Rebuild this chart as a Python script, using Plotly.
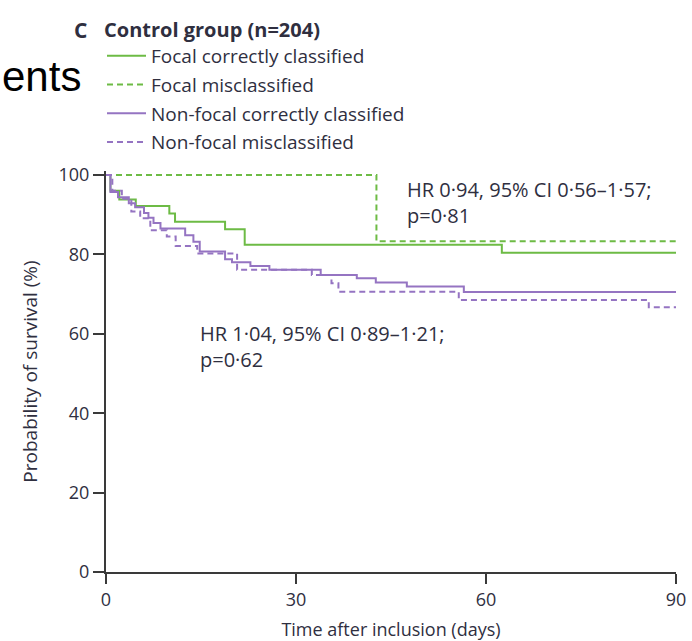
import plotly.graph_objects as go

# ---- data ----
focal_correct_t = [0, 0.7, 2.1, 4.7, 10.0, 10.9, 18.8, 21.9, 62.5, 90]
focal_correct_s = [100, 96.0, 93.8, 92.2, 90.3, 88.2, 86.3, 82.4, 80.4, 80.4]

focal_mis_t = [0, 42.7, 90]
focal_mis_s = [100, 83.3, 83.3]

nonfocal_correct_t = [0, 0.7, 1.9, 3.6, 4.6, 6.0, 6.7, 7.5, 8.6, 12.5, 13.8, 14.8,
                      18.8, 19.9, 22.8, 25.8, 33.9, 39.6, 42.6, 47.5, 56.5, 90]
nonfocal_correct_s = [100, 95.7, 94.4, 92.9, 91.9, 90.4, 89.2, 87.9, 86.5, 84.8, 83.2, 80.7,
                      78.8, 78.0, 77.1, 76.1, 74.8, 74.0, 72.9, 71.9, 70.5, 70.5]

nonfocal_mis_t = [0, 1.0, 2.5, 4.0, 5.4, 7.0, 9.6, 11.0, 14.4, 20.7, 32.5, 35.6, 36.7, 55.7, 85.7, 90]
nonfocal_mis_s = [100, 96.0, 94.0, 90.8, 89.1, 86.1, 84.5, 82.1, 80.2, 76.1, 74.8, 72.7, 70.6, 68.5, 66.7, 66.7]

series_names = ["Focal correctly classified", "Focal misclassified",
                "Non-focal correctly classified", "Non-focal misclassified"]
x_ticks = [0, 30, 60, 90]
y_ticks = [0, 20, 40, 60, 80, 100]

GREEN = "#6dbb45"
PURPLE = "#9574c2"
TXT = "#2f2f3f"
FONT = "Open Sans"

fig = go.Figure()
specs = [
    (focal_correct_t, focal_correct_s, GREEN, "solid"),
    (focal_mis_t, focal_mis_s, GREEN, "6px,4px"),
    (nonfocal_correct_t, nonfocal_correct_s, PURPLE, "solid"),
    (nonfocal_mis_t, nonfocal_mis_s, PURPLE, "6px,4px"),
]
for i, (t, s, c, d) in enumerate(specs):
    fig.add_trace(go.Scatter(
        x=t, y=s, mode="lines", name=series_names[i], legendgroup=f"g{i}",
        line=dict(color=c, width=2, dash=d, shape="hv"),
        hoverinfo="skip"))

W, H = 692, 641
L, R, T, B = 106, 16, 171, 69

def px_x(p):
    return (p - L) / (W - L - R)

def px_y(p):
    return (572 - p) / (572 - T)

fig.update_layout(
    width=W, height=H,
    margin=dict(l=L, r=R, t=T, b=B, autoexpand=False),
    paper_bgcolor="white", plot_bgcolor="white",
    font=dict(family=FONT, size=18, color=TXT),
    showlegend=True,
    legend=dict(
        x=px_x(102), xanchor="left", y=px_y(161), yanchor="bottom",
        bgcolor="rgba(0,0,0,0)", borderwidth=0,
        font=dict(family=FONT, size=19, color=TXT),
        tracegroupgap=1, itemclick=False, itemwidth=39,
        title=dict(text="<b>Control group (n=204)</b>",
                   font=dict(family=FONT, size=20, color=TXT)),
    ),
    xaxis=dict(
        range=[0, 90], tickvals=x_ticks, ticktext=[str(v) for v in x_ticks],
        showgrid=False, zeroline=False, showline=True, linecolor="#3a3a3a", linewidth=2,
        ticks="outside", ticklen=10, tickwidth=2, tickcolor="#3a3a3a",
        tickfont=dict(family=FONT, size=18, color=TXT),
        title=dict(text="Time after inclusion (days)", standoff=18,
                   font=dict(family=FONT, size=18, color=TXT)),
    ),
    yaxis=dict(
        range=[0, 101], tickvals=y_ticks, ticktext=[str(v) for v in y_ticks],
        showgrid=False, zeroline=False, showline=True, linecolor="#3a3a3a", linewidth=2,
        ticks="outside", ticklen=11, tickwidth=2, tickcolor="#3a3a3a",
        tickfont=dict(family=FONT, size=18, color=TXT),
        title=dict(text="Probability of survival (%)", standoff=16,
                   font=dict(family=FONT, size=19, color=TXT)),
    ),
)

fig.add_annotation(x=47.2, y=93.1, xref="x", yref="y", xanchor="left", yanchor="middle",
                   align="left", showarrow=False,
                   text="HR 0·94, 95% CI 0·56–1·57;<br>p=0·81",
                   font=dict(family=FONT, size=20, color=TXT))
fig.add_annotation(x=14.6, y=56.8, xref="x", yref="y", xanchor="left", yanchor="middle",
                   align="left", showarrow=False,
                   text="HR 1·04, 95% CI 0·89–1·21;<br>p=0·62",
                   font=dict(family=FONT, size=20, color=TXT))

# panel letter
fig.add_annotation(x=px_x(72), y=px_y(30), xref="paper", yref="paper",
                   xanchor="left", yanchor="middle", showarrow=False,
                   text="<b>C</b>", font=dict(family=FONT, size=21, color=TXT))

# leftover slide text at top-left
fig.add_annotation(x=px_x(0), y=px_y(76), xref="paper", yref="paper",
                   xanchor="left", yanchor="middle", showarrow=False,
                   text="ents", font=dict(family="Liberation Sans", size=42, color="black"))

fig.write_html("out.html")
